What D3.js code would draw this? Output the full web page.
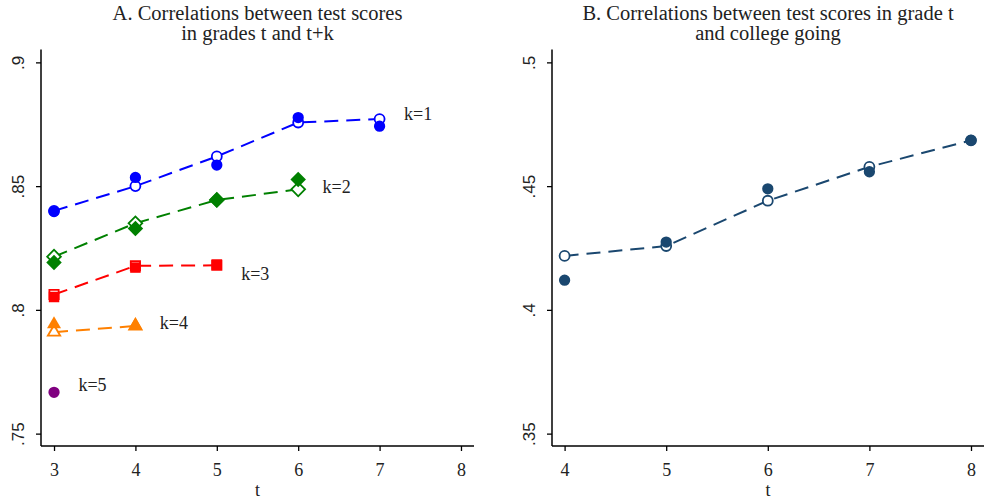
<!DOCTYPE html>
<html>
<head>
<meta charset="utf-8">
<script src="https://cdn.jsdelivr.net/npm/d3@7"></script>
<style>
  body { margin: 0; background: #fff; }
  svg { display: block; }
</style>
</head>
<body>
<script>
// Panel A: correlations between test scores in grades t and t+k
const gradesA = [3, 4, 5, 6, 7];
const k1Hollow = [0.8400, 0.8500, 0.8620, 0.8757, 0.8771];
const k1Filled = [0.8397, 0.8535, 0.8585, 0.8777, 0.8742];
const k2Hollow = [0.8215, 0.8350, 0.8444, 0.8487];
const k2Filled = [0.8191, 0.8329, 0.8444, 0.8527];
const k3Hollow = [0.8062, 0.8178, 0.8180];
const k3Filled = [0.8052, 0.8171, 0.8183];
const k4Hollow = [0.7910, 0.7935];
const k4Filled = [0.7942, 0.7936];
const k5Filled = [0.7667];
const kLabels = ["k=1", "k=2", "k=3", "k=4", "k=5"];
const kLabelT = [7.3, 6.3, 5.3, 4.3, 3.3];
const kLabelY = [0.8790, 0.8496, 0.8145, 0.7944, 0.7694];
const yTicksA = [0.75, 0.8, 0.85, 0.9];
const xTicksA = [3, 4, 5, 6, 7, 8];

// Panel B: correlations between grade t scores and college going
const gradesB = [4, 5, 6, 7, 8];
const collegeHollow = [0.4218, 0.4258, 0.4441, 0.4578, 0.4685];
const collegeFilled = [0.4120, 0.4274, 0.4489, 0.4558, 0.4685];
const yTicksB = [0.35, 0.4, 0.45, 0.5];
const xTicksB = [4, 5, 6, 7, 8];

const width = 984, height = 501;
const serif = "'Liberation Serif', 'Times New Roman', Times, serif";
const sans = "'Liberation Sans', Arial, Helvetica, sans-serif";
const svg = d3.select("body").append("svg")
    .attr("width", width)
    .attr("height", height)
    .style("font-family", serif);

const fmt = d => d3.format(".2~f")(d).replace(/^0/, "");
const dash = "14,8";
const textColor = "#222";

function drawAxes(g, x, y, xTicks, yTicks, title, left, right) {
    const top = 49.5, bottom = 446;

    const ya = g.append("g")
        .attr("transform", `translate(${left},0)`)
        .call(d3.axisLeft(y).tickValues(yTicks).tickFormat(fmt).tickSize(5).tickSizeOuter(0))
        .attr("font-family", null).attr("font-size", null);
    ya.select(".domain").attr("d", `M0,${top}V${bottom}`).attr("stroke-width", 1.5);
    ya.selectAll(".tick line").attr("stroke-width", 1.3);
    // rotated y labels are set in a sans face, as in the source
    ya.selectAll(".tick text")
        .attr("x", 0).attr("y", 0).attr("dy", 0)
        .attr("text-anchor", "middle")
        .attr("transform", "translate(-17,0) rotate(-90)")
        .style("font-family", sans)
        .attr("font-size", 17).attr("fill", textColor);

    const xa = g.append("g")
        .attr("transform", `translate(0,${bottom})`)
        .call(d3.axisBottom(x).tickValues(xTicks).tickFormat(d3.format("d")).tickSize(5).tickSizeOuter(0))
        .attr("font-family", null).attr("font-size", null);
    xa.select(".domain").attr("d", `M${left},0H${right}`).attr("stroke-width", 1.5);
    xa.selectAll(".tick line").attr("stroke-width", 1.3);
    xa.selectAll(".tick text")
        .attr("y", 30).attr("dy", 0)
        .style("font-family", serif)
        .attr("font-size", 18).attr("fill", textColor);

    g.append("text")
        .attr("x", (left + right) / 2).attr("y", 496)
        .attr("text-anchor", "middle")
        .style("font-family", serif)
        .attr("font-size", 18).attr("fill", textColor)
        .text("t");

    g.append("text")
        .attr("x", (left + right) / 2).attr("y", 20)
        .attr("text-anchor", "middle")
        .style("font-family", serif)
        .attr("font-size", 20.5).attr("fill", textColor)
        .selectAll("tspan")
        .data(title)
        .join("tspan")
        .attr("x", (left + right) / 2)
        .attr("dy", (d, i) => i ? 20 : 0)
        .text(d => d);
}

// marker shapes; the diamond is a square turned 45 degrees
const shapes = {
    circle: {type: d3.symbolCircle, rot: 0},
    diamond: {type: d3.symbolSquare, rot: 45},
    square: {type: d3.symbolSquare, rot: 0},
    triangle: {type: d3.symbolTriangle, rot: 0}
};

function drawSeries(g, x, y, ts, hollow, filled, color, shape, size) {
    const s = shapes[shape];
    const pts = hollow ? hollow.map((v, i) => [ts[i], v]) : [];
    if (pts.length > 1) {
        g.append("path")
            .datum(pts)
            .attr("fill", "none")
            .attr("stroke", color)
            .attr("stroke-width", 2)
            .attr("stroke-dasharray", dash)
            .attr("d", d3.line().x(d => x(d[0])).y(d => y(d[1])));
    }
    g.selectAll(null)
        .data(pts)
        .join("path")
        .attr("transform", d => `translate(${x(d[0])},${y(d[1])}) rotate(${s.rot})`)
        .attr("d", d3.symbol().type(s.type).size(size * 0.78)())
        .attr("fill", "#fff")
        .attr("stroke", color)
        .attr("stroke-width", 1.8);
    g.selectAll(null)
        .data(filled.map((v, i) => [ts[i], v]))
        .join("path")
        .attr("transform", d => `translate(${x(d[0])},${y(d[1])}) rotate(${s.rot})`)
        .attr("d", d3.symbol().type(s.type).size(size)())
        .attr("fill", color);
}

// ---- Panel A
const xA = d3.scaleLinear().domain([2.84, 8.16]).range([41, 474]);
const yA = d3.scaleLinear().domain([0.745, 0.9052]).range([446, 49.5]);
const gA = svg.append("g");
drawAxes(gA, xA, yA, xTicksA, yTicksA,
    ["A. Correlations between test scores", "in grades t and t+k"], 41, 474);

const colorsA = ["#0000ff", "#008000", "#ff0000", "#ff8000", "#800080"];
drawSeries(gA, xA, yA, gradesA, k1Hollow, k1Filled, colorsA[0], "circle", 100);
drawSeries(gA, xA, yA, gradesA, k2Hollow, k2Filled, colorsA[1], "diamond", 120);
drawSeries(gA, xA, yA, gradesA, k3Hollow, k3Filled, colorsA[2], "square", 110);
drawSeries(gA, xA, yA, gradesA, k4Hollow, k4Filled, colorsA[3], "triangle", 85);
drawSeries(gA, xA, yA, gradesA, null, k5Filled, colorsA[4], "circle", 100);

gA.selectAll(".klabel")
    .data(kLabels)
    .join("text")
    .attr("class", "klabel")
    .attr("x", (d, i) => xA(kLabelT[i]))
    .attr("y", (d, i) => yA(kLabelY[i]))
    .attr("dy", "0.32em")
    .style("font-family", serif)
    .attr("font-size", 18)
    .attr("fill", textColor)
    .text(d => d);

// ---- Panel B
const xB = d3.scaleLinear().domain([3.876, 8.128]).range([552, 984]);
const yB = d3.scaleLinear().domain([0.345, 0.5052]).range([446, 49.5]);
const gB = svg.append("g");
drawAxes(gB, xB, yB, xTicksB, yTicksB,
    ["B. Correlations between test scores in grade t", "and college going"], 552, 984);
drawSeries(gB, xB, yB, gradesB, collegeHollow, collegeFilled, "#1a476f", "circle", 100);
</script>
</body>
</html>
